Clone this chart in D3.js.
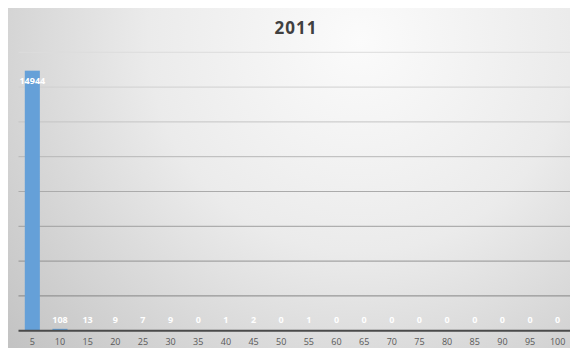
<!DOCTYPE html>
<html>
<head>
<meta charset="utf-8">
<script src="https://cdn.jsdelivr.net/npm/d3@7/dist/d3.min.js"></script>
<style>
  html, body { margin: 0; padding: 0; background: #ffffff; }
  svg { display: block; }
</style>
</head>
<body>
<svg id="chart" width="570" height="348"></svg>
<script>
// Histogram of 2011 counts per bucket
const title = "2011";
const buckets = ["5","10","15","20","25","30","35","40","45","50","55","60","65","70","75","80","85","90","95","100"];
const counts  = [14944,108,13,9,7,9,0,1,2,0,1,0,0,0,0,0,0,0,0,0];
const gridTicks = [0,2000,4000,6000,8000,10000,12000,14000,16000];

const W = 570, H = 348;
const svg = d3.select("#chart");

// chart area background: soft radial gradient
const defs = svg.append("defs");
const rg = defs.append("radialGradient")
  .attr("id", "bg").attr("gradientUnits", "userSpaceOnUse")
  .attr("cx", 360).attr("cy", 40).attr("r", 470);
rg.append("stop").attr("offset", 0).attr("stop-color", "#fbfbfb");
rg.append("stop").attr("offset", 0.45).attr("stop-color", "#ebebeb");
rg.append("stop").attr("offset", 1).attr("stop-color", "#c2c2c2");

svg.append("rect").attr("x", 8).attr("y", 8).attr("width", W - 8).attr("height", H - 8)
  .attr("fill", "url(#bg)");

const margin = { left: 18.5, right: -1.5, top: 52.3, bottom: 17.3 };
const x = d3.scaleBand()
  .domain(buckets)
  .range([margin.left, W - margin.right])
  .paddingInner(0.455)
  .paddingOuter(0.2275);
const y = d3.scaleLinear()
  .domain([0, 16000])
  .range([H - margin.bottom, margin.top]);

// horizontal gridlines, fading out toward the top
const gridColor = d3.scaleLinear().domain([0, 16000]).range(["#7a7a7a", "#dcdcdc"]);
svg.append("g").selectAll("line")
  .data(gridTicks.filter(t => t > 0))
  .join("line")
  .attr("x1", margin.left).attr("x2", W)
  .attr("y1", d => y(d)).attr("y2", d => y(d))
  .attr("stroke", d => gridColor(d))
  .attr("stroke-width", 1);

// bars
svg.append("g").selectAll("rect")
  .data(counts)
  .join("rect")
  .attr("x", (d, i) => x(buckets[i]))
  .attr("width", x.bandwidth())
  .attr("y", d => y(d))
  .attr("height", d => y(0) - y(d))
  .attr("fill", "#65a0d8");

// category axis
const xAxis = svg.append("g")
  .attr("transform", `translate(0,${y(0)})`)
  .call(d3.axisBottom(x).tickSize(0).tickPadding(9));
xAxis.select(".domain")
  .attr("d", `M${margin.left},0H${W}`)
  .attr("stroke", "#4a4a4a").attr("stroke-width", 2);
xAxis.selectAll("text")
  .attr("font-family", "'Open Sans', 'Liberation Sans', sans-serif")
  .attr("font-size", 9).attr("fill", "#595959")
  .attr("dy", "0.6em");

// value labels inside the end of each bar
svg.append("g").selectAll("text")
  .data(counts)
  .join("text")
  .attr("x", (d, i) => x(buckets[i]) + x.bandwidth() / 2)
  .attr("y", d => Math.min(y(d) + 10.5, y(0) - 10.5))
  .attr("dy", "0.35em")
  .attr("text-anchor", "middle")
  .attr("font-family", "'Open Sans', 'Liberation Sans', sans-serif")
  .attr("font-size", 9).attr("font-weight", "bold")
  .attr("fill", "#ffffff")
  .text(d => d);

// title
svg.append("text")
  .attr("x", 296).attr("y", 28).attr("dy", "0.35em")
  .attr("text-anchor", "middle")
  .attr("font-family", "'Open Sans', 'Liberation Sans', sans-serif")
  .attr("font-size", 17).attr("font-weight", "bold")
  .attr("letter-spacing", 1)
  .attr("fill", "#404040")
  .text(title);
</script>
</body>
</html>
